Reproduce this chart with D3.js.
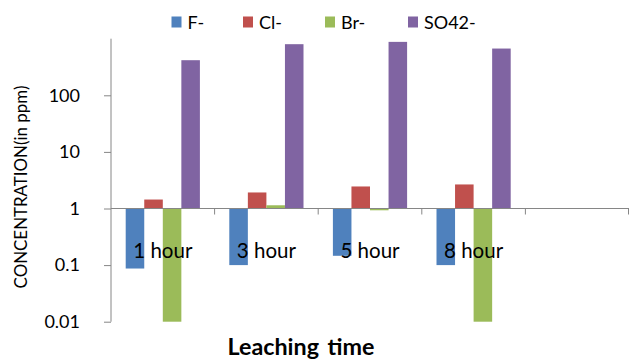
<!DOCTYPE html>
<html>
<head>
<meta charset="utf-8">
<script src="https://cdn.jsdelivr.net/npm/d3@7"></script>
<style>
  html, body { margin: 0; padding: 0; background: #fff; }
  svg { display: block; font-family: Lato, "Open Sans", sans-serif; }
</style>
</head>
<body>
<svg id="chart" width="629" height="362"></svg>
<script>
// ---- data ----
const categories = ["1 hour", "3 hour", "5 hour", "8 hour", ""];
const seriesNames = ["F-", "Cl-", "Br-", "SO42-"];
const fluoride = [0.087, 0.1, 0.146, 0.1];
const chloride = [1.44, 1.92, 2.45, 2.66];
const bromide  = [0.01, 1.14, 0.93, 0.01];
const sulphate = [417, 800, 879, 670];
const yTickValues = [0.01, 0.1, 1, 10, 100];
const yTickLabels = ["0.01", "0.1", "1", "10", "100"];
const colors = ["#4F81BD", "#C0504D", "#9BBB59", "#8064A2"];

const seriesValues = [fluoride, chloride, bromide, sulphate];

// ---- layout ----
const svg = d3.select("#chart");
const plot = { left: 111, right: 629, top: 38.7, bottom: 321.7 };

const y = d3.scaleLog().domain([0.01, 1000]).range([plot.bottom, plot.top]);
const x0 = d3.scaleBand().domain(d3.range(categories.length)).range([plot.left, plot.right]);
const groupPad = 14.7;
const x1 = d3.scaleBand().domain(seriesNames).range([groupPad, x0.bandwidth() - groupPad]);

const axisColor = "#868686";

function fitWidth(sel, target) {
  const base = parseFloat(sel.style("font-size"));
  const len = sel.node().getComputedTextLength();
  if (len > 0) sel.style("font-size", (base * target / len).toFixed(2) + "px");
}

// bars
seriesNames.forEach((name, si) => {
  const vals = seriesValues[si];
  svg.append("g").selectAll("rect")
    .data(vals.map((v, ci) => ({ v, ci })))
    .join("rect")
    .attr("x", d => x0(d.ci) + x1(name))
    .attr("width", x1.bandwidth())
    .attr("y", d => Math.min(y(d.v), y(1)))
    .attr("height", d => Math.abs(y(d.v) - y(1)))
    .attr("fill", colors[si]);
});

// y axis
const yAxis = d3.axisLeft(y).tickValues(yTickValues)
  .tickFormat((d, i) => yTickLabels[i]).tickSize(7).tickPadding(24);
const gy = svg.append("g").attr("transform", `translate(${plot.left},0)`).call(yAxis);
gy.select(".domain").remove();
gy.append("line").attr("x1", 0).attr("x2", 0).attr("y1", plot.top).attr("y2", plot.bottom)
  .attr("stroke", axisColor);
gy.selectAll(".tick line").attr("stroke", axisColor);
gy.selectAll(".tick text").attr("fill", "#000").style("font-size", "18px")
  .style("font-family", "Lato, sans-serif");

// x axis at value 1
const xAxisY = y(1);
const gx = svg.append("g");
gx.append("line").attr("x1", plot.left).attr("x2", plot.right)
  .attr("y1", xAxisY).attr("y2", xAxisY).attr("stroke", axisColor);
gx.selectAll("line.ctick").data(d3.range(1, categories.length + 1)).join("line")
  .attr("class", "ctick")
  .attr("x1", i => Math.min(plot.left + i * x0.step(), plot.right - 0.5))
  .attr("x2", i => Math.min(plot.left + i * x0.step(), plot.right - 0.5))
  .attr("y1", xAxisY).attr("y2", xAxisY + 6).attr("stroke", axisColor);

// category labels
svg.append("g").selectAll("text").data(categories).join("text")
  .attr("x", (d, i) => x0(i) + x0.bandwidth() / 2)
  .attr("y", 258)
  .attr("text-anchor", "middle")
  .style("font-size", "20.5px")
  .attr("fill", "#000")
  .text(d => d);

// axis titles
const yTitle = svg.append("text")
  .attr("transform", "translate(27,187) rotate(-90)")
  .attr("text-anchor", "middle")
  .style("font-size", "15px")
  .attr("fill", "#000")
  .text("CONCENTRATION(in ppm)");
fitWidth(yTitle, 203);

const xTitle = svg.append("text")
  .attr("x", 301).attr("y", 355)
  .attr("text-anchor", "middle")
  .style("font-size", "18px").style("font-weight", "700")
  .style("word-spacing", "3px")
  .attr("fill", "#000")
  .text("Leaching time");
fitWidth(xTitle, 148);

// legend
const legendX = [171.5, 243, 325, 408];
const lg = svg.append("g");
seriesNames.forEach((name, i) => {
  lg.append("rect").attr("x", legendX[i]).attr("y", 16.5).attr("width", 10).attr("height", 11)
    .attr("fill", colors[i]);
  lg.append("text").attr("x", legendX[i] + 16).attr("y", 28.5)
    .style("font-size", "18px").attr("fill", "#000").text(name);
});
</script>
</body>
</html>
